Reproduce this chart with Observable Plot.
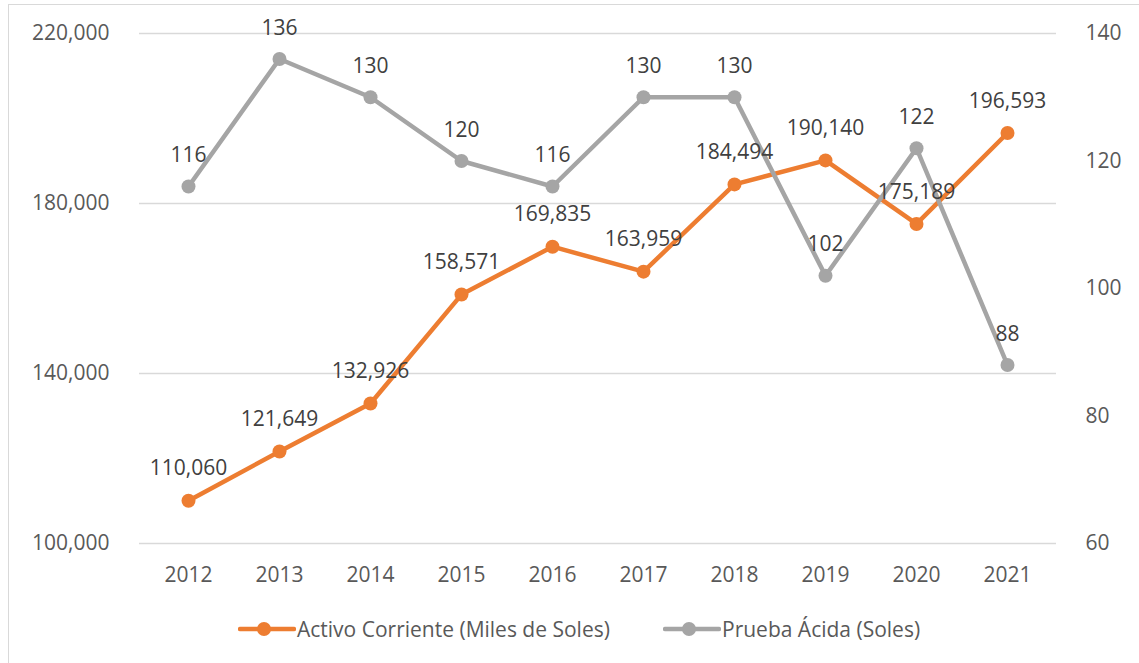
<!DOCTYPE html>
<html><head><meta charset="utf-8">
<script src="https://cdn.jsdelivr.net/npm/d3@7"></script>
<script src="https://cdn.jsdelivr.net/npm/@observablehq/plot@0.6"></script>
<style>
body{margin:0;background:#fff;}
#wrap{position:relative;width:1139px;height:663px;overflow:hidden;font-family:"Open Sans",sans-serif;background:#fff}
#frame{position:absolute;left:8px;top:4px;width:1200px;height:700px;border:1.5px solid #d9d9d9;box-sizing:border-box}
#chart{position:absolute;left:0;top:0}
#legend{position:absolute;left:0;top:600px;width:1139px;height:63px;color:#595959;font-size:21px}
.item{position:absolute;top:0;height:57px;display:flex;align-items:center}
</style></head><body>
<div id="wrap"><div id="frame"></div><div id="chart"></div><div id="legend"></div></div>
<script>
const years = ["2012","2013","2014","2015","2016","2017","2018","2019","2020","2021"];
const activo = [110060,121649,132926,158571,169835,163959,184494,190140,175189,196593];
const prueba = [116,136,130,120,116,130,130,102,122,88];
const leftTicks = [100000,140000,180000,220000];
const rightTicks = [60,80,100,120,140];
const seriesNames = ["Activo Corriente (Miles de Soles)","Prueba Ácida (Soles)"];
const colors = ["#ED7D31","#A5A5A5"];

const toLeft = v => 100000 + (v - 60) * 1500;
const fromLeft = d => Math.round((d - 100000) / 1500 + 60);

const dataA = years.map((y,i) => ({year:y, value:activo[i]}));
const dataP = years.map((y,i) => ({year:y, value:toLeft(prueba[i]), raw:prueba[i]}));
const fmt = d3.format(",");

const chart = Plot.plot({
  width: 1139,
  height: 600,
  marginLeft: 139,
  marginRight: 83,
  marginTop: 33,
  marginBottom: 57,
  style: {fontFamily: '"Open Sans", sans-serif', fontSize: "21px", color: "#595959", background: "transparent"},
  x: {type: "point", domain: years, padding: 0.5, axis: null},
  y: {domain: [100000, 220000], axis: null},
  marks: [
    Plot.ruleY(leftTicks, {stroke: "#d9d9d9", strokeWidth: 1.3}),
    Plot.axisY(leftTicks, {anchor: "left", label: null, tickSize: 0, tickPadding: 30, tickFormat: fmt, fill: "#595959", fontSize: 21}),
    Plot.axisY(rightTicks.map(toLeft), {anchor: "right", label: null, tickSize: 0, tickPadding: 29, tickFormat: fromLeft, fill: "#595959", fontSize: 21}),
    Plot.axisX({label: null, tickSize: 0, tickPadding: 24, fill: "#595959", fontSize: 21}),
    Plot.line(dataA, {x: "year", y: "value", stroke: colors[0], strokeWidth: 4.5}),
    Plot.dot(dataA, {x: "year", y: "value", r: 7, fill: colors[0]}),
    Plot.line(dataP, {x: "year", y: "value", stroke: colors[1], strokeWidth: 4.5}),
    Plot.dot(dataP, {x: "year", y: "value", r: 7, fill: colors[1]}),
    Plot.text(dataA, {x: "year", y: "value", text: d => fmt(d.value), dy: -32, fill: "#404040", fontSize: 21}),
    Plot.text(dataP, {x: "year", y: "value", text: d => String(d.raw), dy: -31, fill: "#404040", fontSize: 21})
  ]
});
document.getElementById("chart").appendChild(chart);

const legend = d3.select("#legend");
const lx = [238, 663];
seriesNames.forEach((name, i) => {
  const it = legend.append("div").attr("class", "item").style("left", lx[i] + "px");
  const s = it.append("svg").attr("width", 58).attr("height", 20).style("margin-right", "1px");
  s.append("line").attr("x1", 2).attr("x2", 56).attr("y1", 10).attr("y2", 10)
    .attr("stroke", colors[i]).attr("stroke-width", 4.5).attr("stroke-linecap", "round");
  s.append("circle").attr("cx", 26).attr("cy", 10).attr("r", 7).attr("fill", colors[i]);
  it.append("span").text(name);
});
</script>
</body></html>
